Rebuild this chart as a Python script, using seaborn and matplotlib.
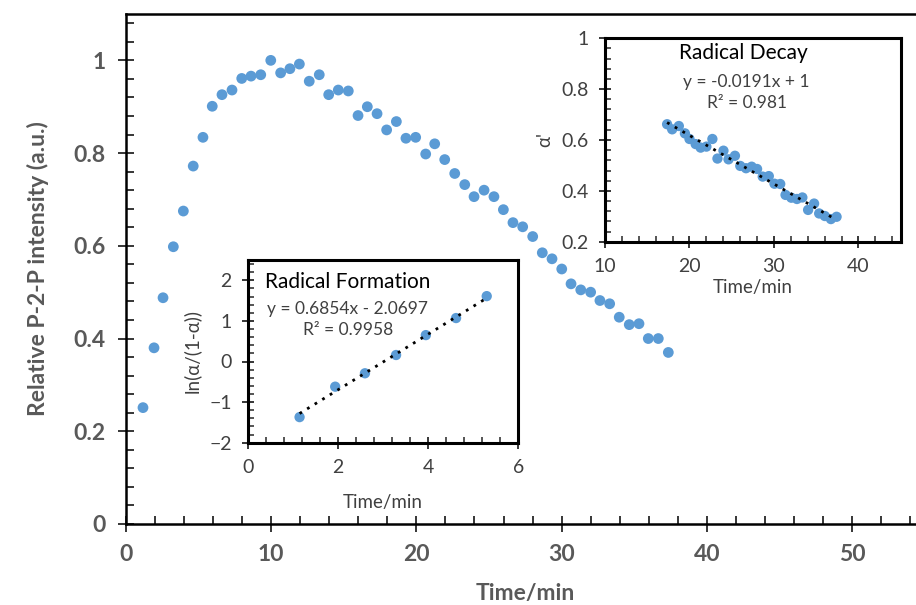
import matplotlib
matplotlib.use('Agg')
import matplotlib.pyplot as plt
import seaborn as sns
from matplotlib.ticker import MultipleLocator

# main curve: relative P-2-P intensity vs time
time_main = [1.17, 1.93, 2.55, 3.26, 3.95, 4.63, 5.30, 5.94, 6.61, 7.30,
             7.97, 8.61, 9.28, 9.97, 10.65, 11.29, 11.94, 12.62, 13.31, 13.96,
             14.62, 15.31, 15.98, 16.62, 17.29, 17.95, 18.62, 19.28, 19.95, 20.64,
             21.26, 21.95, 22.64, 23.33, 23.97, 24.66, 25.34, 25.99, 26.65, 27.32,
             28.01, 28.67, 29.34, 30.01, 30.65, 31.32, 32.00, 32.64, 33.31, 33.97,
             34.66, 35.33, 35.97, 36.66, 37.35]
intensity = [0.251, 0.380, 0.488, 0.598, 0.675, 0.772, 0.834, 0.901, 0.926, 0.936,
             0.961, 0.966, 0.969, 1.000, 0.973, 0.982, 0.992, 0.955, 0.969, 0.926,
             0.936, 0.934, 0.881, 0.900, 0.885, 0.850, 0.868, 0.832, 0.834, 0.798,
             0.820, 0.786, 0.756, 0.732, 0.706, 0.720, 0.706, 0.678, 0.650, 0.641,
             0.620, 0.585, 0.572, 0.550, 0.518, 0.505, 0.500, 0.482, 0.475, 0.446,
             0.430, 0.432, 0.400, 0.400, 0.370]

# radical formation inset
time_form = [1.15, 1.94, 2.60, 3.29, 3.95, 4.62, 5.30]
ln_alpha = [-1.37, -0.62, -0.29, 0.16, 0.65, 1.07, 1.61]
form_slope, form_icpt = 0.6854, -2.0697

# radical decay inset
time_decay = [17.35, 17.95, 18.74, 19.46, 20.00, 20.73, 21.32, 22.00, 22.71, 23.31,
              24.02, 24.62, 25.38, 26.01, 26.69, 27.36, 28.00, 28.67, 29.39, 30.06,
              30.74, 31.37, 32.05, 32.72, 33.36, 34.04, 34.75, 35.35, 36.02, 36.74,
              37.41]
alpha_decay = [0.662, 0.642, 0.655, 0.626, 0.604, 0.584, 0.570, 0.574, 0.604, 0.527,
               0.558, 0.524, 0.538, 0.498, 0.489, 0.495, 0.486, 0.456, 0.458, 0.428,
               0.427, 0.384, 0.373, 0.368, 0.374, 0.325, 0.350, 0.311, 0.301, 0.289,
               0.298]
decay_slope, decay_icpt = -0.0191, 1.0

sns.set_style('ticks')
plt.rcParams['font.family'] = ['Lato', 'DejaVu Sans']

blue = '#5B9BD5'
grey = '#595959'
dark = '#404040'

fig = plt.figure(figsize=(9.16, 6.05), dpi=100)

# main plot
ax = fig.add_axes([126/916, 81/605, 798.6/916, 510/605])
sns.scatterplot(x=time_main, y=intensity, ax=ax, color=blue, s=60, edgecolor='none')
ax.set_xlim(0, 55)
ax.set_ylim(0, 1.1)
ax.xaxis.set_major_locator(MultipleLocator(10))
ax.xaxis.set_minor_locator(MultipleLocator(2))
ax.set_yticks([0, 0.2, 0.4, 0.6, 0.8, 1.0])
ax.set_yticklabels(['0', '0.2', '0.4', '0.6', '0.8', '1'])
ax.yaxis.set_minor_locator(MultipleLocator(0.04))
ax.tick_params(which='major', direction='inout', length=11, width=1.3,
               labelsize=16.5, labelcolor=grey, pad=9)
ax.tick_params(which='minor', direction='in', length=6, width=1.3)
ax.tick_params(which='both', bottom=True, left=True, top=False, right=False)
for lab in ax.get_xticklabels() + ax.get_yticklabels():
    lab.set_fontweight('bold')
for sp in ax.spines.values():
    sp.set_visible(True)
    sp.set_linewidth(1.8)
    sp.set_color('black')
ax.set_xlabel('Time/min', fontsize=16.5, fontweight='bold', color=grey, labelpad=13)
ax.set_ylabel('Relative P-2-P intensity (a.u.)', fontsize=16.5, fontweight='bold',
              color=grey, labelpad=18)


def style_inset(a):
    a.tick_params(which='major', direction='inout', length=9, width=1.3,
                  labelsize=14, labelcolor=dark, pad=7)
    a.tick_params(which='minor', direction='in', length=4.5, width=1.1)
    a.tick_params(which='both', bottom=True, left=True, top=False, right=False)
    for sp in a.spines.values():
        sp.set_visible(True)
        sp.set_linewidth(2.2)
        sp.set_color('black')


# radical formation inset
ax1 = fig.add_axes([247.7/916, 162.3/605, 270.6/916, 182.7/605])
ax1.set_facecolor('white')
sns.scatterplot(x=time_form, y=ln_alpha, ax=ax1, color=blue, s=55, edgecolor='none')
fx = [time_form[0], time_form[-1]]
fy = [form_slope * v + form_icpt for v in fx]
ax1.plot(fx, fy, color='black', linestyle=(0, (1, 2.2)), linewidth=2)
ax1.set_xlim(0, 6)
ax1.set_ylim(-2, 2.5)
ax1.xaxis.set_major_locator(MultipleLocator(2))
ax1.xaxis.set_minor_locator(MultipleLocator(0.4))
ax1.set_yticks([-2, -1, 0, 1, 2])
ax1.yaxis.set_minor_locator(MultipleLocator(0.2))
style_inset(ax1)
ax1.set_xlabel('Time/min', fontsize=13.5, color=dark, labelpad=13)
ax1.set_ylabel('ln(α/(1-α))', fontsize=13.5, color=dark, labelpad=6)
ax1.text(0.37, 0.88, 'Radical Formation', transform=ax1.transAxes, ha='center',
         va='center', fontsize=15, color='black')
ax1.text(0.37, 0.732, 'y = 0.6854x - 2.0697', transform=ax1.transAxes, ha='center',
         va='center', fontsize=12.5, color=dark)
ax1.text(0.37, 0.617, 'R² = 0.9958', transform=ax1.transAxes, ha='center',
         va='center', fontsize=12.5, color=dark)

# radical decay inset
ax2 = fig.add_axes([605/916, 363.3/605, 295.7/916, 203.4/605])
ax2.set_facecolor('white')
sns.scatterplot(x=time_decay, y=alpha_decay, ax=ax2, color=blue, s=55, edgecolor='none')
dx = [time_decay[0], time_decay[-1]]
dy = [decay_slope * v + decay_icpt for v in dx]
ax2.plot(dx, dy, color='black', linestyle=(0, (1, 2.2)), linewidth=2)
ax2.set_xlim(10, 45)
ax2.set_ylim(0.2, 1.0)
ax2.set_xticks([10, 20, 30, 40])
ax2.xaxis.set_minor_locator(MultipleLocator(2))
ax2.set_yticks([0.2, 0.4, 0.6, 0.8, 1.0])
ax2.set_yticklabels(['0.2', '0.4', '0.6', '0.8', '1'])
ax2.yaxis.set_minor_locator(MultipleLocator(0.04))
style_inset(ax2)
ax2.set_xlabel('Time/min', fontsize=13.5, color=dark, labelpad=3)
ax2.set_ylabel("α'", fontsize=13.5, color=dark, labelpad=6)
ax2.text(0.467, 0.928, 'Radical Decay', transform=ax2.transAxes, ha='center',
         va='center', fontsize=15, color='black')
ax2.text(0.479, 0.787, 'y = -0.0191x + 1', transform=ax2.transAxes, ha='center',
         va='center', fontsize=12.5, color=dark)
ax2.text(0.479, 0.682, 'R² = 0.981', transform=ax2.transAxes, ha='center',
         va='center', fontsize=12.5, color=dark)

fig.savefig('out.png', dpi=100)
